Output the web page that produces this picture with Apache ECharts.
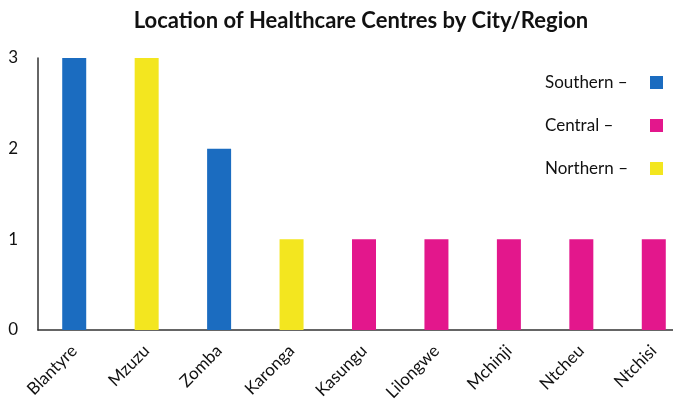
<!DOCTYPE html>
<html>
<head>
<meta charset="utf-8">
<script src="https://cdn.jsdelivr.net/npm/echarts@6/dist/echarts.min.js"></script>
<style>
  html, body { margin: 0; padding: 0; background: #fff; }
  #chart { width: 673px; height: 407px; }
</style>
</head>
<body>
<div id="chart"></div>
<script>
// cities on the x axis and how many centres each one has
const cities = ['Blantyre', 'Mzuzu', 'Zomba', 'Karonga', 'Kasungu', 'Lilongwe', 'Mchinji', 'Ntcheu', 'Ntchisi']
const regionOf = ['Southern', 'Northern', 'Southern', 'Northern', 'Central', 'Central', 'Central', 'Central', 'Central']
const centres = [3, 3, 2, 1, 1, 1, 1, 1, 1]
const regions = ['Southern', 'Central', 'Northern']
const regionColors = ['#1b6cc0', '#e3178c', '#f3e61f']
const yTicks = [0, 1, 2, 3]

const font = 'Lato, "Open Sans", sans-serif'

// one series per region, null where the city belongs elsewhere
const series = regions.map((r, i) => ({
  name: r,
  type: 'bar',
  stack: 'all',
  barWidth: 24,
  itemStyle: { color: regionColors[i] },
  data: centres.map((v, k) => regionOf[k] === r ? v : null)
}))

let myChart = echarts.init(document.getElementById('chart'))
myChart.setOption({
  animation: false,
  textStyle: { fontFamily: font, color: '#222' },
  title: {
    text: 'Location of Healthcare Centres by City/Region',
    left: 356,
    textAlign: 'center',
    top: 5,
    textStyle: { fontSize: 22, fontWeight: 'bold', color: '#111', fontFamily: font }
  },
  legend: {
    orient: 'vertical',
    left: 540,
    top: 69,
    align: 'right',
    itemGap: 26,
    itemWidth: 13,
    itemHeight: 13,
    icon: 'rect',
    data: regions,
    formatter: name => '{a|' + name + ' –}',
    textStyle: {
      rich: { a: { width: 100, align: 'left', fontSize: 17, color: '#111', fontFamily: font } }
    }
  },
  grid: {
    left: 38,
    top: 58,
    height: 272,
    width: 652,
    outerBoundsMode: 'none'
  },
  xAxis: {
    type: 'category',
    data: cities,
    axisLine: { lineStyle: { color: '#333', width: 1.5 } },
    axisTick: { show: false },
    axisLabel: { rotate: 45, fontSize: 17, color: '#111', margin: 18, interval: 0 }
  },
  yAxis: {
    type: 'value',
    min: yTicks[0],
    max: yTicks[yTicks.length - 1],
    interval: 1,
    axisLine: { show: true, lineStyle: { color: '#333', width: 1.5 } },
    axisTick: { show: false },
    splitLine: { show: false },
    axisLabel: { fontSize: 17, color: '#111', margin: 20 }
  },
  series: series
})
</script>
</body>
</html>
